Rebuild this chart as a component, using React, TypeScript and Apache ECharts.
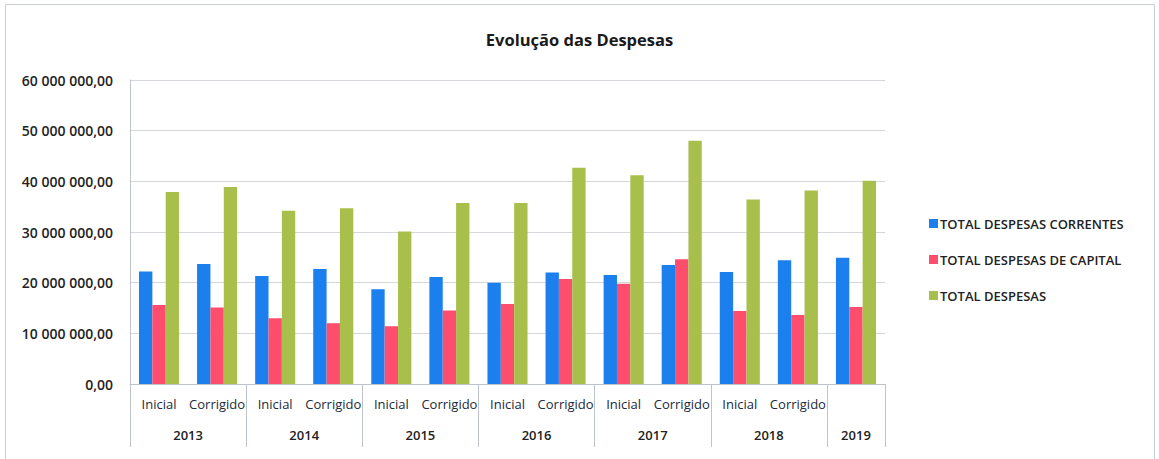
import React, { useEffect, useRef } from "react";
import * as echarts from "echarts";

const categories = [
  "Inicial", "Corrigido", "Inicial", "Corrigido", "Inicial", "Corrigido",
  "Inicial", "Corrigido", "Inicial", "Corrigido", "Inicial", "Corrigido", "",
];
const years = ["2013", "2014", "2015", "2016", "2017", "2018", "2019"];
const yearCenters = [1, 3, 5, 7, 9, 11, 12.5];

const correntes = [22.2, 23.7, 21.3, 22.7, 18.7, 21.1, 20.0, 22.0, 21.5, 23.5, 22.1, 24.4, 24.9].map((v) => v * 1e6);
const capital = [15.6, 15.1, 13.0, 12.0, 11.4, 14.5, 15.8, 20.7, 19.8, 24.6, 14.4, 13.6, 15.2].map((v) => v * 1e6);
const total = [37.9, 38.9, 34.2, 34.7, 30.1, 35.7, 35.7, 42.7, 41.2, 48.0, 36.4, 38.2, 40.1].map((v) => v * 1e6);

const seriesNames = ["TOTAL DESPESAS CORRENTES", "TOTAL DESPESAS DE CAPITAL", "TOTAL DESPESAS"];
const colors = ["#1b80ee", "#ff4d6e", "#a8bf4b"];

const FONT = "'Open Sans', sans-serif";

function fmt(v: number) {
  const s = Math.round(v).toString().replace(/\B(?=(\d{3})+(?!\d))/g, " ");
  return s + ",00";
}

export default function App() {
  const ref = useRef<HTMLDivElement>(null);
  useEffect(() => {
    if (!ref.current) return;
    const chart = echarts.init(ref.current, undefined, { renderer: "svg" });
    chart.setOption({
      animation: false,
      backgroundColor: "#ffffff",
      textStyle: { fontFamily: FONT },
      title: {
        text: "Evolução das Despesas",
        left: "center",
        top: 26,
        textStyle: { fontFamily: FONT, fontSize: 16.5, fontWeight: 700, color: "#1a1a1a" },
      },
      graphic: [
        {
          type: "rect",
          shape: { x: 5.5, y: 4.5, width: 1149, height: 480 },
          style: { fill: "none", stroke: "#c9cdd6", lineWidth: 1 },
          silent: true,
        },
      ],
      legend: {
        orient: "vertical",
        left: 924,
        top: 212,
        icon: "rect",
        itemWidth: 9,
        itemHeight: 9,
        itemGap: 23,
        textStyle: { fontFamily: FONT, fontSize: 13, fontWeight: 600, color: "#222222", padding: [0, 0, 0, -3] },
        data: seriesNames,
      },
      grid: { left: 130, right: 274, top: 80, bottom: 75, containLabel: false },
      xAxis: [
        {
          type: "category",
          data: categories,
          axisLine: { lineStyle: { color: "#bfc3ca" } },
          axisTick: {
            show: true,
            length: 63,
            interval: (i: number) => i % 2 === 0,
            lineStyle: { color: "#bfc3ca" },
          },
          axisLabel: { interval: 0, margin: 13, fontSize: 13, fontWeight: 500, color: "#222a3a", fontFamily: FONT },
        },
        {
          type: "value",
          min: 0,
          max: 13,
          interval: 0.5,
          position: "bottom",
          offset: 32,
          axisLine: { show: false },
          axisTick: { show: false },
          splitLine: { show: false },
          axisLabel: {
            margin: 12,
            fontSize: 13,
            fontWeight: 600,
            color: "#222222",
            fontFamily: FONT,
            formatter: (v: number) => {
              const i = yearCenters.indexOf(v);
              return i >= 0 ? years[i] : "";
            },
          },
        },
      ],
      yAxis: {
        type: "value",
        min: 0,
        max: 60000000,
        interval: 10000000,
        axisLine: { show: true, lineStyle: { color: "#bfc3ca" } },
        axisTick: { show: false },
        splitLine: { lineStyle: { color: "#d4d7dc" } },
        axisLabel: {
          margin: 17,
          fontSize: 14,
          fontWeight: 600,
          color: "#222222",
          fontFamily: FONT,
          formatter: (v: number) => fmt(v),
        },
      },
      series: [correntes, capital, total].map((d, k) => ({
        name: seriesNames[k],
        type: "bar",
        data: d,
        barGap: "0%",
        barCategoryGap: "31%",
        itemStyle: { color: colors[k] },
      })),
    });
    return () => chart.dispose();
  }, []);
  return (
    <div
      ref={ref}
      style={{ position: "absolute", left: 0, top: 0, width: 1159, height: 459 }}
    />
  );
}
